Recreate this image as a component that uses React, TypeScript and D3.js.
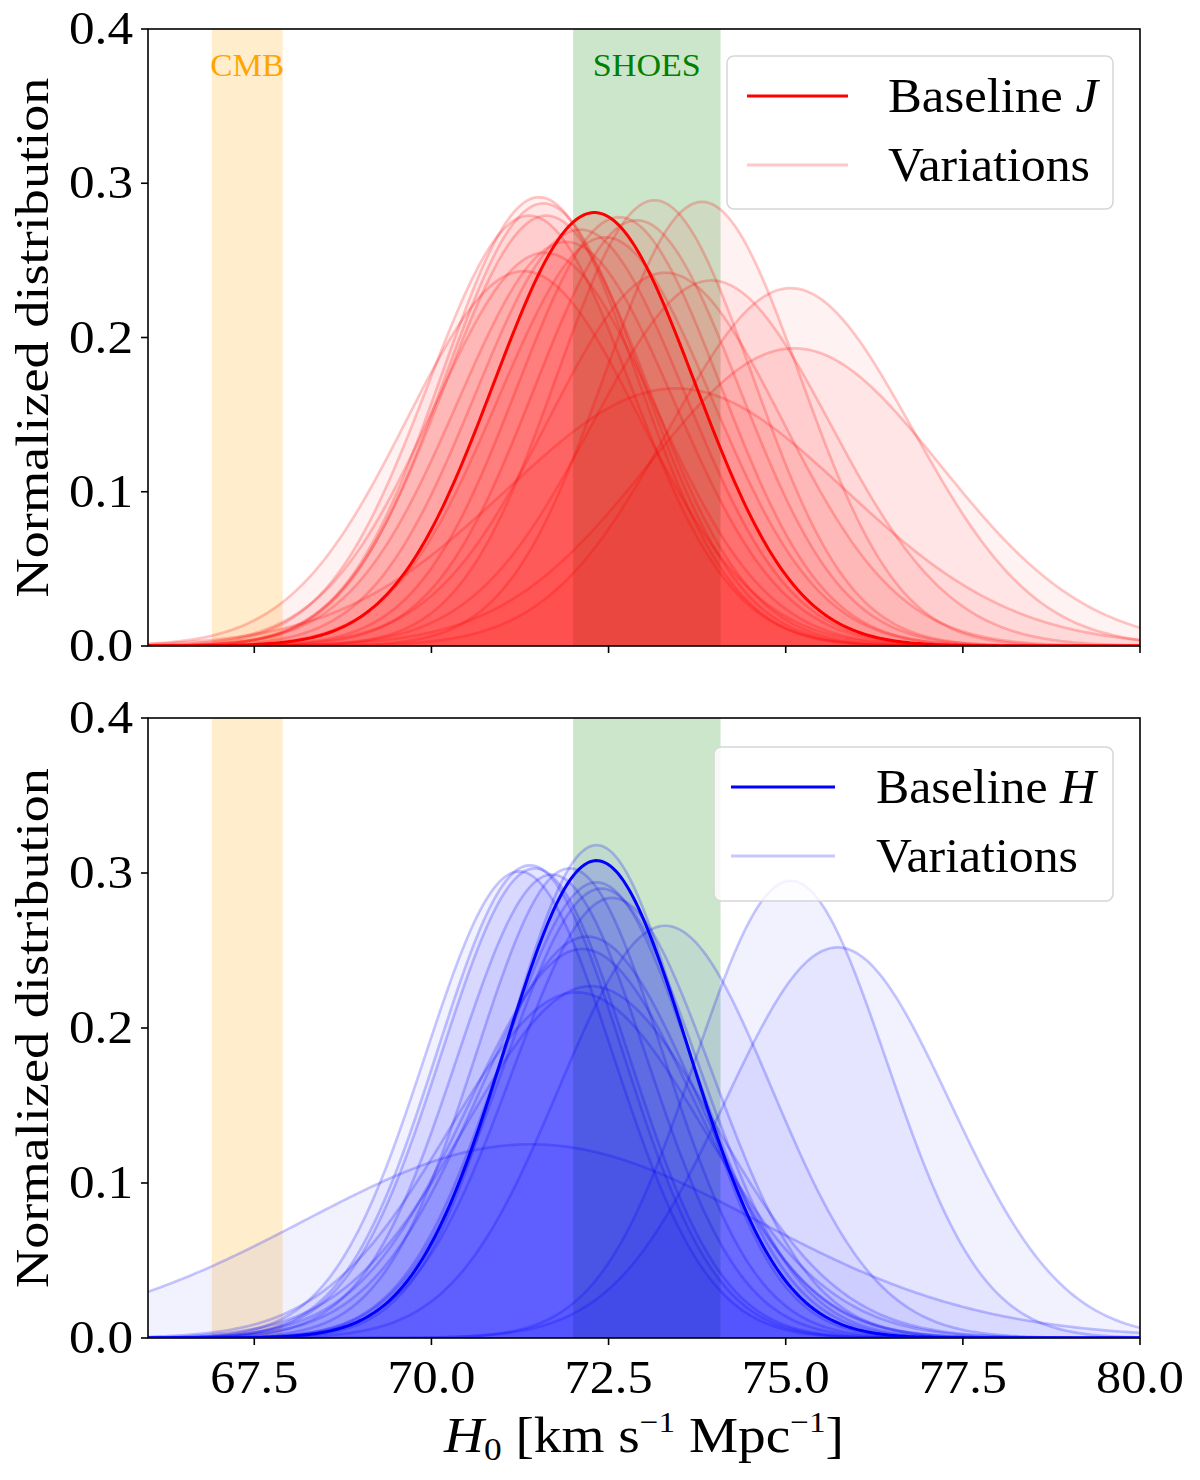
import React from "react";
import * as d3 from "d3";

// ---- data ----
const xDomain = [66, 80];
const yDomain = [0, 0.4];
const xTicks = [67.5, 70.0, 72.5, 75.0, 77.5, 80.0];
const yTicks = [0.0, 0.1, 0.2, 0.3, 0.4];

// reference bands [low, high]
const cmbBand = [66.9, 67.9];
const shoesBand = [72.0, 74.08];

// Baseline J (top) : mean, peak of the normalized distribution
const baselineJ = { mean: 72.3, peak: 0.281 };
const jVarMeans = [71.52, 71.58, 71.62, 71.38, 73.15, 73.82, 72.65, 72.9, 72.1, 71.9, 71.6, 71.3, 73.3, 73.95, 75.07, 75.12, 73.45, 72.45];
const jVarPeaks = [0.291, 0.287, 0.279, 0.279, 0.289, 0.288, 0.278, 0.276, 0.270, 0.262, 0.255, 0.243, 0.242, 0.237, 0.232, 0.193, 0.167, 0.265];

// Baseline H (bottom)
const baselineH = { mean: 72.33, peak: 0.308 };
const hVarMeans = [72.33, 71.39, 71.46, 71.24, 71.95, 71.7, 72.33, 72.4, 72.55, 73.3, 72.2, 72.13, 72.25, 72.05, 71.4, 75.07, 75.73];
const hVarPeaks = [0.318, 0.305, 0.303, 0.301, 0.303, 0.299, 0.294, 0.290, 0.284, 0.266, 0.259, 0.251, 0.227, 0.223, 0.125, 0.295, 0.252];

// ---- layout ----
const W = 1200;
const H = 1480;
const left = 148;
const right = 1140;
const panels = [
  { top: 29, bottom: 646 },
  { top: 718, bottom: 1338 },
];
const FONT = "'Liberation Serif', 'DejaVu Serif', serif";

const xScale = d3.scaleLinear().domain(xDomain).range([left, right]);
const grid = d3.range(xDomain[0], xDomain[1] + 1e-9, 0.04);

function density(x: number, mean: number, peak: number) {
  const sigma = 1 / (peak * Math.sqrt(2 * Math.PI));
  const z = (x - mean) / sigma;
  return peak * Math.exp(-0.5 * z * z);
}

function Panel({ idx, color, baseline, means, peaks, legendBox, legendItalic, showXLabels }: any) {
  const { top, bottom } = panels[idx];
  const y = d3.scaleLinear().domain(yDomain).range([bottom, top]);
  const makePts = (m: number, p: number) => grid.map((g) => ({ g, v: density(g, m, p) }));
  const areaGen = d3
    .area<any>()
    .x((d) => xScale(d.g))
    .y0(y(0))
    .y1((d) => y(d.v));
  const lineGen = d3
    .line<any>()
    .x((d) => xScale(d.g))
    .y((d) => y(d.v));
  const clipId = `clip${idx}`;
  const lb = legendBox;
  return (
    <g>
      <defs>
        <clipPath id={clipId}>
          <rect x={left} y={top} width={right - left} height={bottom - top} />
        </clipPath>
      </defs>
      <g clipPath={`url(#${clipId})`}>
        <rect x={xScale(cmbBand[0])} y={top} width={xScale(cmbBand[1]) - xScale(cmbBand[0])} height={bottom - top} fill="orange" fillOpacity={0.2} />
        <rect x={xScale(shoesBand[0])} y={top} width={xScale(shoesBand[1]) - xScale(shoesBand[0])} height={bottom - top} fill="green" fillOpacity={0.2} />
        {means.map((m: number, i: number) => {
          const pts = makePts(m, peaks[i]);
          return (
            <g key={i}>
              <path d={areaGen(pts) || ""} fill={color} fillOpacity={0.05} />
              <path d={lineGen(pts) || ""} fill="none" stroke={color} strokeOpacity={0.22} strokeWidth={2.7} />
            </g>
          );
        })}
        {(() => {
          const pts = makePts(baseline.mean, baseline.peak);
          return (
            <g>
              <path d={areaGen(pts) || ""} fill={color} fillOpacity={0.15} />
              <path d={lineGen(pts) || ""} fill="none" stroke={color} strokeWidth={3} />
            </g>
          );
        })()}
      </g>
      {/* band labels */}
      {idx === 0 && (
        <g fontFamily={FONT} fontSize={31}>
          <text x={xScale((cmbBand[0] + cmbBand[1]) / 2)} y={76} textAnchor="middle" fill="orange" textLength={74} lengthAdjust="spacingAndGlyphs">CMB</text>
          <text x={xScale((shoesBand[0] + shoesBand[1]) / 2)} y={76} textAnchor="middle" fill="green" textLength={108} lengthAdjust="spacingAndGlyphs">SHOES</text>
        </g>
      )}
      {/* spines */}
      <rect x={left} y={top} width={right - left} height={bottom - top} fill="none" stroke="black" strokeWidth={1.6} />
      {/* y ticks */}
      {yTicks.map((t) => (
        <g key={t}>
          <line x1={left - 7} x2={left} y1={y(t)} y2={y(t)} stroke="black" strokeWidth={1.6} />
          <text x={133} y={y(t) + 15} textAnchor="end" fontFamily={FONT} fontSize={46} fill="black" textLength={64} lengthAdjust="spacingAndGlyphs">
            {t.toFixed(1)}
          </text>
        </g>
      ))}
      {/* x ticks */}
      {xTicks.map((t) => (
        <g key={t}>
          <line x1={xScale(t)} x2={xScale(t)} y1={bottom} y2={bottom + 7} stroke="black" strokeWidth={1.6} />
          {showXLabels && (
            <text x={xScale(t)} y={bottom + 55} textAnchor="middle" fontFamily={FONT} fontSize={46} fill="black" textLength={88} lengthAdjust="spacingAndGlyphs">
              {t.toFixed(1)}
            </text>
          )}
        </g>
      ))}
      {/* y label */}
      <text
        transform={`translate(48, ${(top + bottom) / 2}) rotate(-90)`}
        textAnchor="middle"
        fontFamily={FONT}
        fontSize={46}
        fill="black"
        textLength={520}
        lengthAdjust="spacingAndGlyphs"
      >
        Normalized distribution
      </text>
      {/* legend */}
      <rect x={lb.x} y={lb.y} width={lb.w} height={lb.h} rx={7} fill="white" fillOpacity={0.8} stroke="#d6d6d6" strokeWidth={1.5} />
      <line x1={lb.lx1} x2={lb.lx2} y1={lb.y + 40} y2={lb.y + 40} stroke={color} strokeWidth={3} />
      <line x1={lb.lx1} x2={lb.lx2} y1={lb.y + 109} y2={lb.y + 109} stroke={color} strokeOpacity={0.22} strokeWidth={3} />
      <text x={lb.tx} y={lb.y + 56} fontFamily={FONT} fontSize={48} fill="black" textLength={lb.bw} lengthAdjust="spacingAndGlyphs">
        Baseline <tspan fontStyle="italic">{legendItalic}</tspan>
      </text>
      <text x={lb.tx} y={lb.y + 125} fontFamily={FONT} fontSize={48} fill="black" textLength={202} lengthAdjust="spacingAndGlyphs">
        Variations
      </text>
    </g>
  );
}

export default function App() {
  return (
    <svg width={W} height={H} viewBox={`0 0 ${W} ${H}`} style={{ position: "absolute", left: 0, top: 0, background: "white" }}>
      <rect x={0} y={0} width={W} height={H} fill="white" />
      <Panel
        idx={0}
        color="red"
        baseline={baselineJ}
        means={jVarMeans}
        peaks={jVarPeaks}
        legendItalic="J"
        showXLabels={false}
        legendBox={{ x: 727, y: 56, w: 386, h: 153, lx1: 747, lx2: 848, tx: 888, bw: 210 }}
      />
      <Panel
        idx={1}
        color="blue"
        baseline={baselineH}
        means={hVarMeans}
        peaks={hVarPeaks}
        legendItalic="H"
        showXLabels={true}
        legendBox={{ x: 714, y: 747, w: 399, h: 154, lx1: 731, lx2: 835, tx: 876, bw: 220 }}
      />
      <text x={644} y={1452} textAnchor="middle" fontFamily={FONT} fontSize={50} fill="black" textLength={400} lengthAdjust="spacingAndGlyphs">
        <tspan fontStyle="italic">H</tspan>
        <tspan fontSize={32} dy={8}>0</tspan>
        <tspan dy={-8}> [km s</tspan>
        <tspan fontSize={30} dy={-20}>−1</tspan>
        <tspan dy={20}> Mpc</tspan>
        <tspan fontSize={30} dy={-20}>−1</tspan>
        <tspan dy={20}>]</tspan>
      </text>
    </svg>
  );
}
